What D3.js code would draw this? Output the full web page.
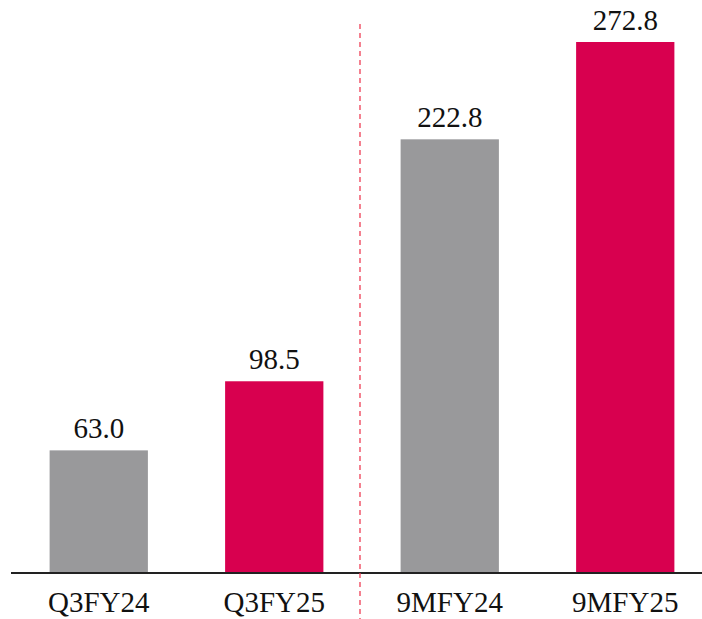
<!DOCTYPE html>
<html><head><meta charset="utf-8">
<script src="https://cdn.jsdelivr.net/npm/d3@7"></script>
<style>html,body{margin:0;padding:0;background:#fff;}</style>
</head><body>
<svg id="c" width="702" height="619"></svg>
<script>
const categories = ["Q3FY24", "Q3FY25", "9MFY24", "9MFY25"];
const values = [63.0, 98.5, 222.8, 272.8];
const valueLabels = ["63.0", "98.5", "222.8", "272.8"];
const colors = ["#99999b", "#d8004f", "#99999b", "#d8004f"];

const svg = d3.select("#c");
const font = "'Liberation Serif', 'DejaVu Serif', serif";
const x = d3.scaleBand().domain(categories).range([11, 713]).paddingInner(0.44).paddingOuter(0.22);
const y = d3.scaleLinear().domain([0, 272.8]).range([573, 42]);

svg.selectAll("rect.bar").data(values).enter().append("rect")
  .attr("x", (d, i) => x(categories[i]))
  .attr("y", d => y(d))
  .attr("width", x.bandwidth())
  .attr("height", d => y(0) - y(d))
  .attr("fill", (d, i) => colors[i]);

svg.selectAll("text.val").data(values).enter().append("text")
  .attr("x", (d, i) => x(categories[i]) + x.bandwidth() / 2)
  .attr("y", d => y(d) - 12)
  .attr("text-anchor", "middle")
  .attr("font-family", font)
  .attr("font-size", 29)
  .attr("fill", "#111")
  .text((d, i) => valueLabels[i]);

const axis = d3.axisBottom(x).tickSize(0).tickPadding(0);
const g = svg.append("g").attr("transform", `translate(0,${y(0)})`).call(axis);
g.select(".domain").attr("d", "M11,0H702").attr("stroke", "#222").attr("stroke-width", 2);
g.selectAll(".tick text").attr("font-family", font).attr("font-size", 29).attr("fill", "#111").attr("dy", 0).attr("y", 39);

const sepX = x(categories[1]) + x.bandwidth() + x.step() * x.paddingInner() / 2 - 2;
svg.append("line").attr("x1", sepX).attr("x2", sepX).attr("y1", 24).attr("y2", 619)
  .attr("stroke", "#ee3e55").attr("stroke-width", 1.3).attr("stroke-dasharray", "5,4");
</script>
</body></html>
